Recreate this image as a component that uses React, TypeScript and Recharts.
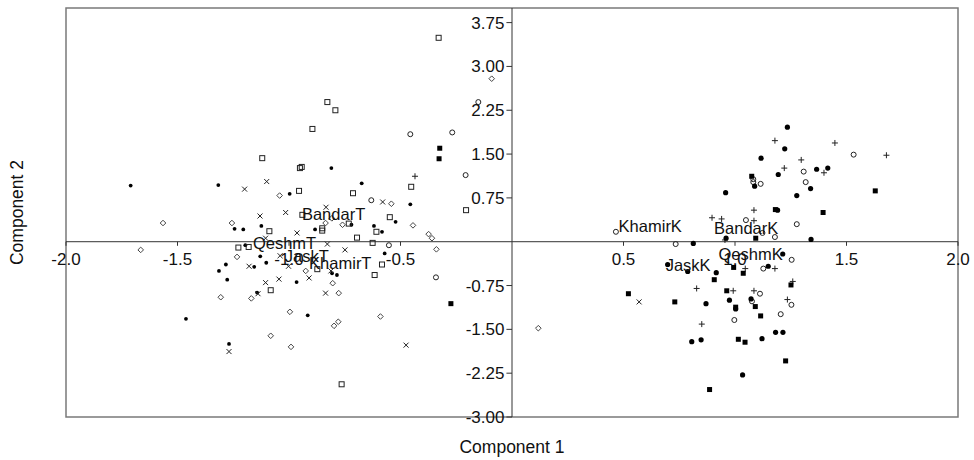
import React from "react";
import {
  ScatterChart,
  Scatter,
  XAxis,
  YAxis,
  ReferenceLine,
  ReferenceArea,
} from "recharts";

type Pt = { x: number; y: number };
const pts = (rows: number[][]): Pt[] => rows.map(([x, y]) => ({ x, y }));

// component scores, one array per group
const qeshmT = pts([
  [-1.71, 0.96], [-1.317, 0.97], [-0.997, 0.82], [-0.81, 1.26], [-0.674, 1.0],
  [-0.456, 0.64], [-1.244, 0.22], [-1.205, 0.21], [-1.124, 0.27], [-0.883, 0.21],
  [-0.72, 0.29], [-0.619, 0.27], [-0.583, 0.17], [-0.522, 0.34], [-0.571, -0.2],
  [-1.196, -0.06], [-1.129, -0.25], [-1.102, -0.36], [-1.283, -0.39], [-1.314, -0.5],
  [-1.277, -0.65], [-1.156, -0.43], [-0.966, -0.69], [-1.143, -0.87], [-1.462, -1.32],
  [-1.269, -1.75], [-0.916, -1.26], [-0.807, -0.54], [-0.785, -0.57],
]);

const bandarT = pts([
  [-1.12, 1.43], [-0.955, 0.87], [-0.951, 1.26], [-0.943, 1.28], [-0.895, 1.93],
  [-0.828, 2.39], [-0.792, 2.25], [-0.713, 0.83], [-0.452, 0.94], [-0.329, 3.49],
  [-0.206, 0.54], [-1.088, 0.18], [-0.851, 0.23], [-0.851, 0.19], [-0.732, 0.31],
  [-0.695, 0.07], [-0.608, 0.17], [-0.625, -0.02], [-0.548, 0.42], [-1.227, -0.1],
  [-1.181, -0.09], [-0.583, -0.39], [-0.616, -0.57], [-1.082, -0.83], [-0.873, -0.47],
  [-0.764, -2.44], [-0.94, 0.46],
]);

const jaskT = pts([
  [-1.199, 0.9], [-1.1, 1.03], [-1.015, 0.5], [-1.13, 0.44], [-0.58, 0.68],
  [-0.834, 0.59], [-0.964, 0.15], [-0.749, -0.14], [-0.828, -0.04], [-1.179, -0.42],
  [-1.105, 0.06], [-1.04, -0.24], [-1.002, -0.42], [-0.91, -0.62], [-1.045, -0.64],
  [-1.105, -0.7], [-1.139, -0.89], [-0.836, -0.88], [-1.269, -1.88], [-0.475, -1.77],
  [-0.812, -0.5], [0.57, -1.03],
]);

const khamirT = pts([
  [-1.042, 0.79], [-0.541, 0.65], [-0.091, 2.79], [-1.565, 0.32], [-1.665, -0.14],
  [-1.256, 0.32], [-0.836, 0.32], [-0.808, 0.4], [-0.76, 0.29], [-0.444, 0.28],
  [-0.374, 0.13], [-0.359, 0.06], [-0.339, -0.13], [-1.233, -0.26], [-0.925, -0.5],
  [-1.169, -0.97], [-1.306, -0.95], [-1.082, -1.61], [-0.991, -1.8], [-0.996, -1.2],
  [-0.804, -0.71], [-0.777, -0.88], [-0.798, -1.44], [-0.779, -1.37], [-0.59, -1.28],
  [0.118, -1.48],
]);

const khamirK = pts([
  [-0.456, 1.84], [-0.268, 1.87], [-0.631, 0.71], [-0.151, 2.39], [-0.208, 1.14],
  [-0.552, -0.06], [-0.341, -0.61], [1.532, 1.49], [1.308, 1.2], [1.082, 1.07],
  [1.082, 1.02], [1.115, 0.99], [1.317, 1.02], [1.049, 0.37], [1.277, 0.3],
  [0.466, 0.17], [1.179, 0.08], [1.123, 0.15], [0.734, -0.04], [1.127, -0.46],
  [1.254, -0.31], [1.112, -0.89], [1.076, -1.02], [1.253, -1.08], [1.205, -1.24],
  [0.997, -1.34],
]);

const bandarK = pts([
  [-0.435, 1.12], [1.179, 1.73], [1.448, 1.69], [1.679, 1.48], [1.297, 1.4],
  [1.221, 1.26], [1.399, 1.18], [1.085, 0.54], [0.897, 0.41], [0.94, 0.39],
  [1.085, 0.36], [0.955, 0.03], [1.046, -0.46], [1.179, -0.46], [1.259, -0.68],
  [0.828, -0.8], [0.992, -0.84], [1.085, -0.84], [1.235, -0.99], [0.851, -1.41],
]);

const qeshmK = pts([
  [-0.324, 1.6], [-0.327, 1.42], [-0.274, -1.06], [1.075, 1.12], [1.629, 0.87],
  [1.181, 0.55], [1.395, 0.5], [1.093, 0.06], [0.994, -0.44], [0.907, -0.65],
  [1.037, -0.54], [1.251, -0.74], [0.963, -0.84], [0.522, -0.89], [0.73, -1.03],
  [1.003, -1.12], [1.091, -1.11], [1.115, -1.27], [1.015, -1.67], [1.045, -1.72],
  [1.227, -2.04], [0.886, -2.53],
]);

const jaskK = pts([
  [1.235, 1.96], [1.223, 1.59], [1.117, 1.43], [1.366, 1.24], [1.416, 1.26],
  [1.194, 1.15], [1.088, 0.95], [1.339, 0.91], [0.958, 0.84], [1.277, 0.79],
  [1.191, 0.54], [0.96, 0.06], [1.341, 0.04], [0.813, -0.03], [1.149, -0.42],
  [1.214, -0.21], [0.788, -0.51], [0.916, -0.53], [0.87, -1.06], [0.975, -1.0],
  [1.072, -0.98], [1.003, -1.15], [0.806, -1.71], [0.848, -1.68], [1.121, -1.66],
  [1.182, -1.55], [1.215, -1.55], [1.034, -2.28], [0.698, -0.39],
]);

const groupLabels = [
  { name: "BandarT", x: -0.8, y: 0.48 },
  { name: "QeshmT", x: -1.02, y: -0.03 },
  { name: "JaskT", x: -0.92, y: -0.24 },
  { name: "KhamirT", x: -0.77, y: -0.36 },
  { name: "KhamirK", x: 0.62, y: 0.27 },
  { name: "BandarK", x: 1.05, y: 0.24 },
  { name: "QeshmK", x: 1.07, y: -0.21 },
  { name: "JaskK", x: 0.79, y: -0.39 },
];

const xTicks = [-2.0, -1.5, -1.0, -0.5, 0.5, 1.0, 1.5, 2.0];
const yTicks = [-3.0, -2.25, -1.5, -0.75, 0.75, 1.5, 2.25, 3.0, 3.75];

const ink = "#222";

const dot = (p: any) => <circle cx={p.cx} cy={p.cy} r={1.9} fill="#000" />;
const bigDot = (p: any) => <circle cx={p.cx} cy={p.cy} r={2.6} fill="#000" />;
const openSquare = (p: any) => (
  <rect x={p.cx - 2.5} y={p.cy - 2.5} width={5} height={5} fill="none" stroke={ink} strokeWidth={1} />
);
const fillSquare = (p: any) => (
  <rect x={p.cx - 2.5} y={p.cy - 2.5} width={5} height={5} fill="#000" />
);
const cross = (p: any) => (
  <path
    d={`M${p.cx - 2.5},${p.cy - 2.5}L${p.cx + 2.5},${p.cy + 2.5}M${p.cx - 2.5},${p.cy + 2.5}L${p.cx + 2.5},${p.cy - 2.5}`}
    stroke={ink}
    strokeWidth={1}
  />
);
const plus = (p: any) => (
  <path
    d={`M${p.cx - 3},${p.cy}L${p.cx + 3},${p.cy}M${p.cx},${p.cy - 3}L${p.cx},${p.cy + 3}`}
    stroke={ink}
    strokeWidth={1}
  />
);
const diamond = (p: any) => (
  <path
    d={`M${p.cx},${p.cy - 2.8}L${p.cx + 2.8},${p.cy}L${p.cx},${p.cy + 2.8}L${p.cx - 2.8},${p.cy}Z`}
    fill="none"
    stroke="#444"
    strokeWidth={1}
  />
);
const openCircle = (p: any) => (
  <circle cx={p.cx} cy={p.cy} r={2.5} fill="none" stroke={ink} strokeWidth={1} />
);
const labelText = (p: any) => (
  <text
    x={p.cx}
    y={p.cy}
    textAnchor="middle"
    dominantBaseline="central"
    fontSize={16.5}
    fill="#111"
  >
    {p.payload.name}
  </text>
);

const series = [
  { name: "QeshmT", data: qeshmT, shape: dot },
  { name: "BandarT", data: bandarT, shape: openSquare },
  { name: "JaskT", data: jaskT, shape: cross },
  { name: "KhamirT", data: khamirT, shape: diamond },
  { name: "KhamirK", data: khamirK, shape: openCircle },
  { name: "BandarK", data: bandarK, shape: plus },
  { name: "QeshmK", data: qeshmK, shape: fillSquare },
  { name: "JaskK", data: jaskK, shape: bigDot },
];

export default function App() {
  return (
    <div
      style={{
        position: "absolute",
        left: 0,
        top: 0,
        width: 974,
        height: 460,
        background: "#fff",
        fontFamily: "Arial, 'Liberation Sans', sans-serif",
      }}
    >
      <ScatterChart width={974} height={460} margin={{ top: 8, right: 16, bottom: 0, left: 8 }}>
        <XAxis
          type="number"
          dataKey="x"
          domain={[-2, 2]}
          allowDataOverflow
          height={43}
          tick={false}
          tickLine={false}
          axisLine={false}
          label={({ viewBox }: any) => (
            <text x={viewBox.x + viewBox.width / 2} y={viewBox.y + 36} textAnchor="middle" fontSize={17.5} fill="#111">
              Component 1
            </text>
          )}
        />
        <YAxis
          type="number"
          dataKey="y"
          domain={[-3, 4]}
          allowDataOverflow
          width={58}
          tick={false}
          tickLine={false}
          axisLine={false}
          label={({ viewBox }: any) => {
            const cx = viewBox.x + 15;
            const cy = viewBox.y + viewBox.height / 2;
            return (
              <text x={cx} y={cy} transform={`rotate(-90, ${cx}, ${cy})`} textAnchor="middle" fontSize={17.5} fill="#111">
                Component 2
              </text>
            );
          }}
        />
        <ReferenceArea x1={-2} x2={2} y1={-3} y2={4} fill="none" stroke="#7a7a7a" strokeWidth={1.5} ifOverflow="visible" />
        <ReferenceLine y={0} stroke="#333" strokeWidth={1} ifOverflow="visible" />
        <ReferenceLine x={0} stroke="#333" strokeWidth={1} ifOverflow="visible" />
        {xTicks.map((v) => (
          <ReferenceLine
            key={`xt${v}`}
            segment={[{ x: v, y: 0 }, { x: v, y: -0.07 }]}
            stroke="#333"
            ifOverflow="visible"
            label={{ value: v.toFixed(1), position: "bottom", offset: 7, fill: "#111", fontSize: 17 }}
          />
        ))}
        {yTicks.map((v) => (
          <ReferenceLine
            key={`yt${v}`}
            segment={[{ x: 0, y: v }, { x: -0.025, y: v }]}
            stroke="#333"
            ifOverflow="visible"
            label={{ value: v.toFixed(2), position: "left", offset: 2, fill: "#111", fontSize: 17 }}
          />
        ))}
        {series.map((s) => (
          <Scatter key={s.name} name={s.name} data={s.data} shape={s.shape} isAnimationActive={false} />
        ))}
        <Scatter name="labels" data={groupLabels} shape={labelText} isAnimationActive={false} />
      </ScatterChart>
    </div>
  );
}
